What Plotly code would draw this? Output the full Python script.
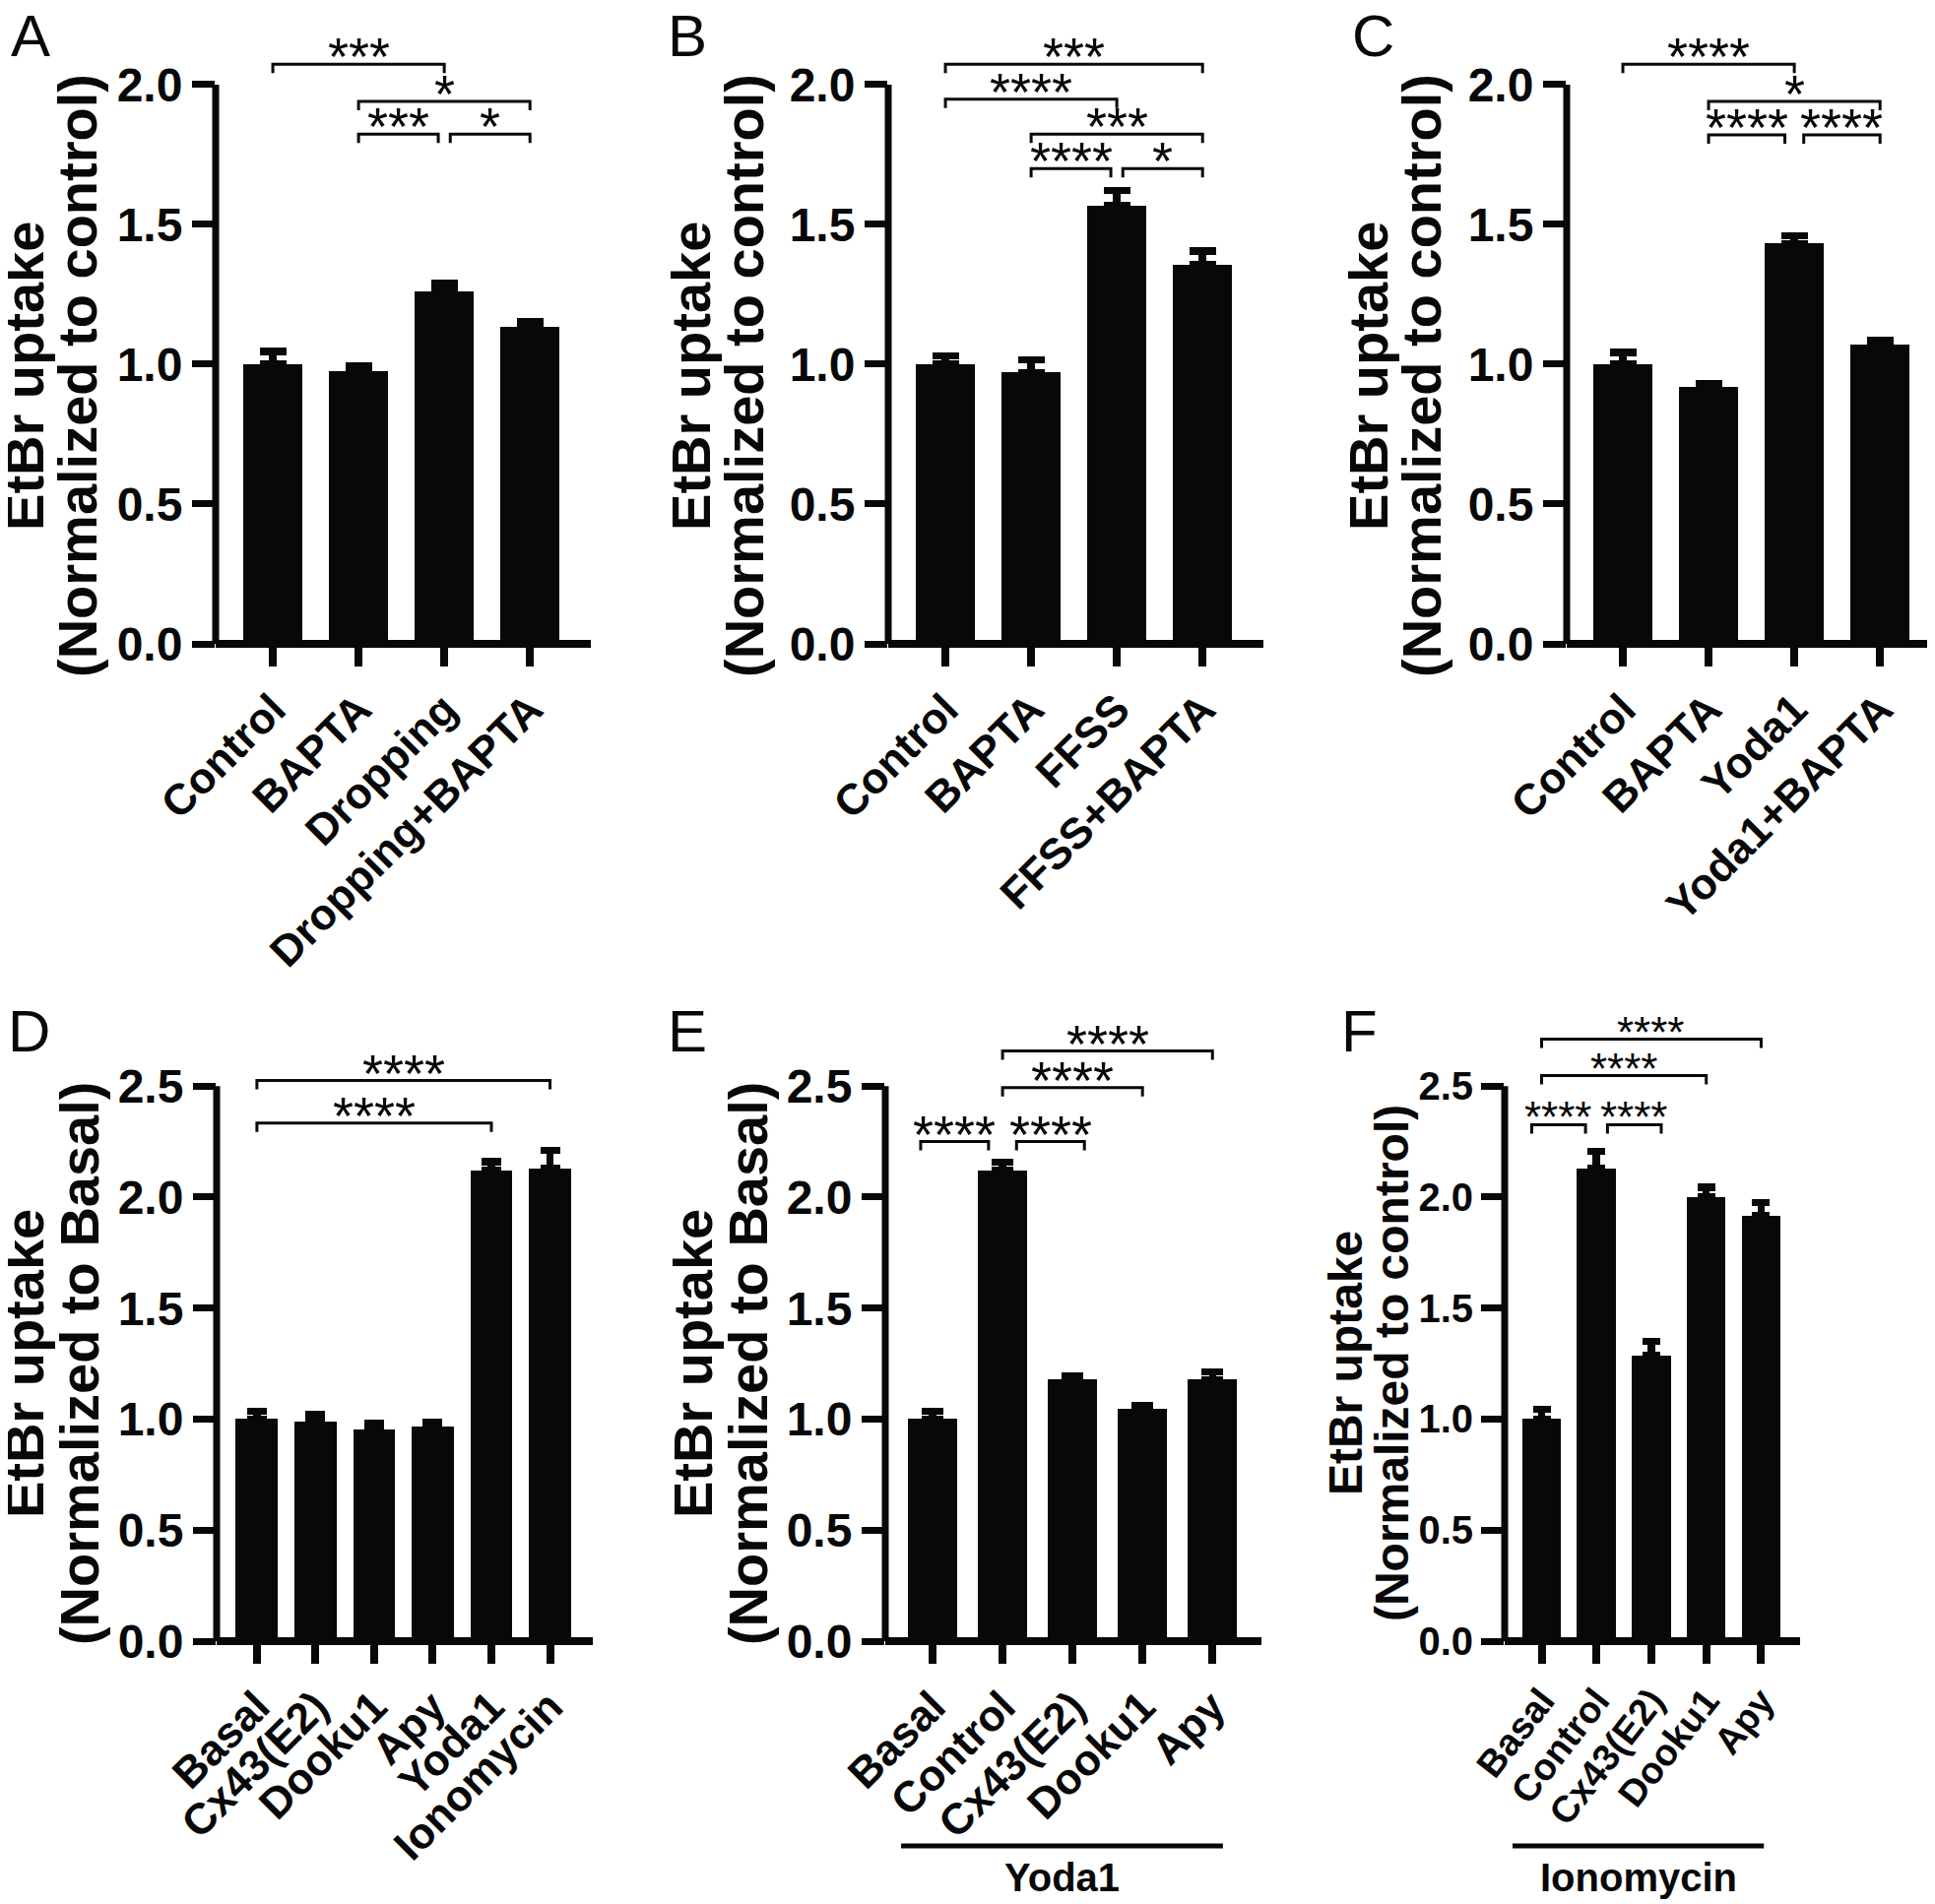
import plotly.graph_objects as go

W, H = 1965, 1934
FONT = "Liberation Sans, Arial, Helvetica, sans-serif"
INK = "#080808"

# ---------------- data ----------------
a_cats = ["Control", "BAPTA", "Dropping", "Dropping+BAPTA"]
a_vals = [1.00, 0.975, 1.26, 1.135]
a_errs = [0.045, 0.018, 0.028, 0.017]
a_sig = [(0, 2, 2.073, "***"), (1, 3, 1.94, "*"), (1, 2, 1.823, "***"), (2, 3, 1.823, "*")]

b_cats = ["Control", "BAPTA", "FFSS", "FFSS+BAPTA"]
b_vals = [1.00, 0.97, 1.567, 1.355]
b_errs = [0.03, 0.045, 0.055, 0.05]
b_sig = [(0, 3, 2.073, "***"), (0, 2, 1.948, "****"), (1, 3, 1.823, "***"),
         (1, 2, 1.70, "****"), (2, 3, 1.70, "*")]

c_cats = ["Control", "BAPTA", "Yoda1", "Yoda1+BAPTA"]
c_vals = [1.00, 0.918, 1.432, 1.071]
c_errs = [0.042, 0.012, 0.027, 0.013]
c_sig = [(0, 2, 2.073, "****"), (1, 3, 1.94, "*"), (1, 2, 1.82, "****"), (2, 3, 1.82, "****")]

d_cats = ["Basal", "Cx43(E2)", "Dooku1", "Apy", "Yoda1", "Ionomycin"]
d_vals = [1.00, 0.99, 0.955, 0.965, 2.12, 2.13]
d_errs = [0.035, 0.032, 0.025, 0.02, 0.04, 0.08]
d_sig = [(0, 5, 2.525, "****"), (0, 4, 2.333, "****")]

e_cats = ["Basal", "Control", "Cx43(E2)", "Dooku1", "Apy"]
e_vals = [1.00, 2.12, 1.178, 1.047, 1.178]
e_errs = [0.035, 0.037, 0.015, 0.014, 0.035]
e_sig = [(1, 4, 2.658, "****"), (1, 3, 2.493, "****"), (0, 1, 2.25, "****"), (1, 2, 2.25, "****")]

f_cats = ["Basal", "Control", "Cx43(E2)", "Dooku1", "Apy"]
f_vals = [1.00, 2.13, 1.285, 2.00, 1.915]
f_errs = [0.045, 0.075, 0.065, 0.045, 0.06]
f_sig = [(0, 4, 2.711, "****"), (0, 3, 2.547, "****"), (0, 1, 2.326, "****"), (1, 2, 2.326, "****")]

ticks_top = [0.0, 0.5, 1.0, 1.5, 2.0]
ticks_bot = [0.0, 0.5, 1.0, 1.5, 2.0, 2.5]

# ---------------- layout of panels (pixels) ----------------
base = dict(ytick_size=48, xtick_size=44, angle=-45, star_size=54, star_shift=-24,
            title_size=56, group_size=40)
panels = [
    dict(base, letter="A", cats=a_cats, vals=a_vals, errs=a_errs, sig=a_sig,
         xpx=(211, 592), ypx=(646, 20), xr=(-0.667, 3.71), yr=(0, 2.204), yticks=ticks_top,
         bw=0.69, cap=13.5, title2="(Normalized to control)", tx=(17, 71), tdy=12, lpos=(23, 28),
         shift=0.0, gap=0.07, group=None),
    dict(base, letter="B", cats=b_cats, vals=b_vals, errs=b_errs, sig=b_sig,
         xpx=(894, 1275), ypx=(646, 20), xr=(-0.667, 3.71), yr=(0, 2.204), yticks=ticks_top,
         bw=0.69, cap=13.5, title2="(Normalized to control)", tx=(694, 748), tdy=12, lpos=(690, 28),
         shift=0.0, gap=0.07, group=None),
    dict(base, letter="C", cats=c_cats, vals=c_vals, errs=c_errs, sig=c_sig,
         xpx=(1583, 1963), ypx=(646, 20), xr=(-0.655, 3.71), yr=(0, 2.204), yticks=ticks_top,
         bw=0.69, cap=13.5, title2="(Normalized to control)", tx=(1382, 1436), tdy=12, lpos=(1386, 28),
         shift=0.0, gap=0.11, group=None),
    dict(base, letter="D", cats=d_cats, vals=d_vals, errs=d_errs, sig=d_sig,
         xpx=(212, 594), ypx=(1659, 1000), xr=(-0.687, 5.73), yr=(0, 2.922), yticks=ticks_bot,
         bw=0.72, cap=10, title2="(Normalized to Basal)", tx=(16, 72), tdy=0, lpos=(21, 1039),
         shift=0.0, gap=0.0, group=None),
    dict(base, letter="E", cats=e_cats, vals=e_vals, errs=e_errs, sig=e_sig,
         xpx=(891, 1273), ypx=(1659, 1000), xr=(-0.676, 4.70), yr=(0, 2.922), yticks=ticks_bot,
         bw=0.70, cap=11, title2="(Normalized to Basal)", tx=(695, 751), tdy=0, lpos=(690, 1039),
         shift=0.17, gap=0.03, group=("Yoda1", -0.45, 4.15)),
    dict(base, letter="F", cats=f_cats, vals=f_vals, errs=f_errs, sig=f_sig,
         xpx=(1520, 1820), ypx=(1659, 1000), xr=(-0.673, 4.71), yr=(0, 2.922), yticks=ticks_bot,
         bw=0.71, cap=9, title2="(Normalized to control)", tx=(1358, 1405), tdy=0, lpos=(1372, 1039),
         shift=0.18, gap=0.02, group=("Ionomycin", -0.53, 4.05),
         ytick_size=40, xtick_size=38, angle=-52, star_size=44, star_shift=-19,
         title_size=48, group_size=40),
]

fig = go.Figure()
shapes, annots = [], []
lay = {}

for k, p in enumerate(panels, start=1):
    xa = "x" if k == 1 else f"x{k}"
    ya = "y" if k == 1 else f"y{k}"
    xn = "xaxis" if k == 1 else f"xaxis{k}"
    yn = "yaxis" if k == 1 else f"yaxis{k}"
    n = len(p["cats"])
    xs = list(range(n))

    fig.add_trace(go.Bar(
        x=xs, y=p["vals"], width=p["bw"], xaxis=xa, yaxis=ya,
        marker=dict(color=INK, line=dict(width=0)),
        error_y=dict(type="data", array=p["errs"], arrayminus=[0] * n, symmetric=False,
                     color=INK, thickness=7.5, width=p["cap"]),
        showlegend=False, hoverinfo="skip"))

    x0, x1 = p["xpx"]
    yb, yt = p["ypx"]
    lay[xn] = dict(domain=[x0 / W, x1 / W], range=list(p["xr"]), anchor=ya, automargin=False,
                   tickmode="array", tickvals=xs, ticktext=p["cats"], tickangle=p["angle"],
                   ticks="outside", ticklen=22, tickwidth=7.5, tickcolor=INK,
                   showline=False, showgrid=False, zeroline=False, fixedrange=True,
                   tickfont=dict(family=FONT, size=p["xtick_size"], color=INK, weight="bold"))
    lay[yn] = dict(domain=[1 - yb / H, 1 - yt / H], range=list(p["yr"]), anchor=xa, automargin=False,
                   tickmode="array", tickvals=p["yticks"], tickformat=".1f",
                   ticks="outside", ticklen=23, tickwidth=7, tickcolor=INK,
                   showline=False, showgrid=False, zeroline=False, fixedrange=True,
                   tickfont=dict(family=FONT, size=p["ytick_size"], color=INK, weight="bold"))

    # axis lines
    shapes.append(dict(type="line", xref=f"{xa} domain", yref=f"{ya} domain",
                       x0=0, x1=1, y0=0, y1=0, line=dict(color=INK, width=8)))
    shapes.append(dict(type="line", xref=f"{xa} domain", yref=ya,
                       x0=0, x1=0, y0=0, y1=p["yticks"][-1], line=dict(color=INK, width=7)))

    # significance brackets
    drop = 9 / ((yb - yt) / (p["yr"][1] - p["yr"][0]))
    for (i, j, lvl, lab) in p["sig"]:
        xl, xr_ = float(i), float(j)
        for (i2, j2, l2, _) in p["sig"]:
            if l2 == lvl and (i2, j2) != (i, j):
                if j2 == i:          # another bracket ends where this one starts
                    xl += p["gap"] + p["shift"]
                    xr_ += p["shift"]
                if i2 == j:          # another bracket starts where this one ends
                    xr_ -= p["gap"] + p["shift"]
                    xl -= p["shift"]
        shapes.append(dict(type="path", xref=xa, yref=ya,
                           path=f"M {xl},{lvl - drop} L {xl},{lvl} L {xr_},{lvl} L {xr_},{lvl - drop}",
                           line=dict(color=INK, width=3)))
        annots.append(dict(xref=xa, yref=ya, x=(xl + xr_) / 2, y=lvl, text=lab,
                           showarrow=False, yanchor="bottom", yshift=p["star_shift"],
                           font=dict(family=FONT, size=p["star_size"], color=INK)))

    # y titles
    ytop_px = yb - (yb - yt) * p["yticks"][-1] / p["yr"][1]
    ymid = 1 - ((yb + ytop_px) / 2 + p["tdy"]) / H
    for tx, txt in zip(p["tx"], ["EtBr uptake", p["title2"]]):
        annots.append(dict(xref="paper", yref="paper", x=tx / W, y=ymid, text=txt,
                           textangle=-90, showarrow=False, xanchor="center", yanchor="middle",
                           font=dict(family=FONT, size=p["title_size"], color=INK, weight="bold")))
    # panel letter
    annots.append(dict(xref="paper", yref="paper", x=p["lpos"][0] / W, y=1 - p["lpos"][1] / H,
                       text=p["letter"], showarrow=False, xanchor="center", yanchor="middle",
                       font=dict(family=FONT, size=60, color=INK)))
    # group label
    if p["group"]:
        gl, g0, g1 = p["group"]
        shapes.append(dict(type="line", xref=xa, yref="paper", x0=g0, x1=g1,
                           y0=1 - 1867 / H, y1=1 - 1867 / H, line=dict(color=INK, width=5)))
        annots.append(dict(xref=xa, yref="paper", x=(g0 + g1) / 2, y=1 - 1899 / H, text=gl,
                           showarrow=False, xanchor="center", yanchor="middle",
                           font=dict(family=FONT, size=p["group_size"], color=INK, weight="bold")))

fig.update_layout(template="none", width=W, height=H, margin=dict(l=0, r=0, t=0, b=0, autoexpand=False),
                  paper_bgcolor="white", plot_bgcolor="white", showlegend=False,
                  shapes=shapes, annotations=annots, bargap=0, **lay)
fig.write_html("out.html")
